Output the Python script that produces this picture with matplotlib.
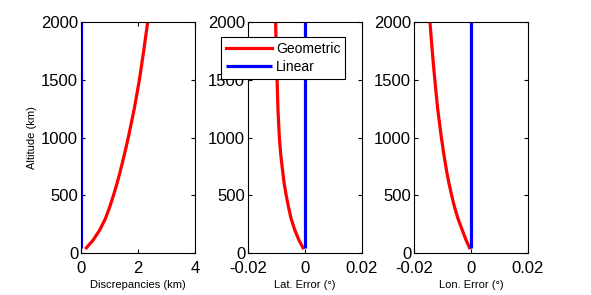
import matplotlib
matplotlib.use("Agg")
import matplotlib.pyplot as plt

plt.rcParams['font.family'] = ['Liberation Sans', 'DejaVu Sans']

alt = [45, 110, 200, 300, 400, 500, 600, 700, 850, 1000, 1250, 1500, 1750, 2000]
disc_geo = [0.19, 0.42, 0.66, 0.86, 1.01, 1.14, 1.26, 1.37, 1.52, 1.66, 1.87, 2.05, 2.20, 2.34]
disc_lin = [0] * len(alt)
lat_geo = [-0.0007, -0.0021, -0.0036, -0.0049, -0.0058, -0.0066, -0.0073, -0.0078, -0.0085,
           -0.0090, -0.0095, -0.0098, -0.0101, -0.0103]
lat_lin = [0] * len(alt)
lon_geo = [-0.0005, -0.0017, -0.0031, -0.0046, -0.0058, -0.0068, -0.0077, -0.0085, -0.0095,
           -0.0104, -0.0117, -0.0127, -0.0136, -0.0144]
lon_lin = [0] * len(alt)

xlabels = ['Discrepancies (km)', 'Lat. Error (°)', 'Lon. Error (°)']
xlims = [(0, 4), (-0.02, 0.02), (-0.02, 0.02)]
xticks = [[0, 2, 4], [-0.02, 0, 0.02], [-0.02, 0, 0.02]]
xticklabels = [['0', '2', '4'], ['-0.02', '0', '0.02'], ['-0.02', '0', '0.02']]
yticks = [0, 500, 1000, 1500, 2000]

W, H = 591, 295
fig = plt.figure(figsize=(W / 100, H / 100), dpi=100)
lefts = [81, 248, 414]
axes = []
for l in lefts:
    ax = fig.add_axes([l / W, (H - 253) / H, 114 / W, 231 / H])
    axes.append(ax)

data = [(disc_geo, disc_lin), (lat_geo, lat_lin), (lon_geo, lon_lin)]
for i, ax in enumerate(axes):
    g, lnr = data[i]
    ax.plot(g, alt, color='#ff0000', lw=2.3, label='Geometric')
    ax.plot(lnr, alt, color='#0000ff', lw=2.3, label='Linear', solid_capstyle='butt')
    ax.set_xlim(*xlims[i])
    ax.set_ylim(0, 2000)
    ax.set_xticks(xticks[i])
    ax.set_xticklabels(xticklabels[i])
    ax.set_yticks(yticks)
    ax.tick_params(direction='in', top=True, right=True, labelsize=12, length=3, width=0.8)
    ax.tick_params(axis='x', pad=6)
    ax.tick_params(axis='y', pad=2)
    ax.set_xlabel(xlabels[i], fontsize=8, labelpad=3)
    for s in ax.spines.values():
        s.set_linewidth(0.8)

axes[0].set_ylabel('Altitude (km)', fontsize=8, labelpad=3)

leg = axes[1].legend(loc='upper left', bbox_to_anchor=(221 / W, 1 - 37 / H), bbox_transform=fig.transFigure,
                     fontsize=10, frameon=True, fancybox=False, edgecolor='black', framealpha=1,
                     handlelength=3.3, borderpad=0.35, labelspacing=0.3, handletextpad=0.3, borderaxespad=0)
leg.get_frame().set_linewidth(0.8)

fig.savefig('out.png', dpi=100)
